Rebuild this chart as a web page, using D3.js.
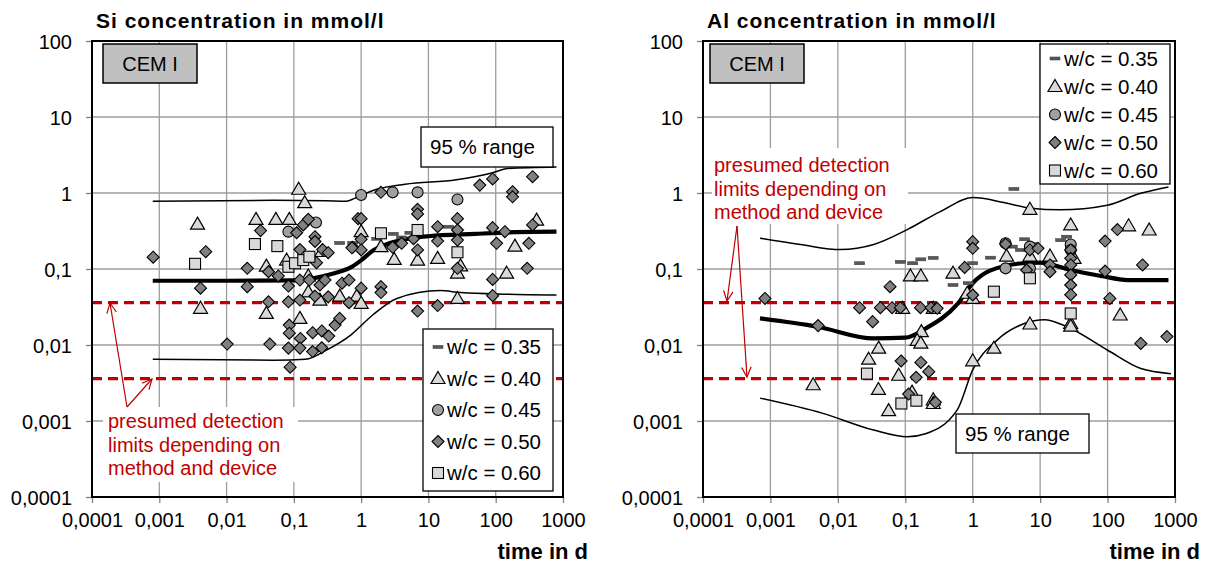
<!DOCTYPE html>
<html><head><meta charset="utf-8">
<script src="https://cdn.jsdelivr.net/npm/d3@7/dist/d3.min.js"></script>
<style>body{margin:0;background:#fff} text{font-family:Arial,"Liberation Sans",sans-serif}</style>
</head><body><svg id="c" width="1212" height="564"></svg>
<script>
// ---------- tick labels / categories ----------
const xTickValues = [1e-4, 1e-3, 1e-2, 1e-1, 1, 10, 100, 1000];
const xTickLabels = ["0,0001", "0,001", "0,01", "0,1", "1", "10", "100", "1000"];
const yTickValues = [1e-4, 1e-3, 1e-2, 1e-1, 1, 10, 100];
const yTickLabels = ["0,0001", "0,001", "0,01", "0,1", "1", "10", "100"];
const seriesNames = ["w/c = 0.35", "w/c = 0.40", "w/c = 0.45", "w/c = 0.50", "w/c = 0.60"];
const detectionLimits = [0.036, 0.0036];

// ---------- Si panel data: [time in d, concentration mmol/l] ----------
const si_wc035 = [[0.48,0.22],[0.75,0.22],[1.7,0.25],[3.0,0.29],[4.0,0.26],[5.3,0.30],[20,0.36]];
const si_wc040 = [[0.118,1.12],[0.145,0.745],[0.0037,0.39],[0.0274,0.45],[0.054,0.45],[0.0855,0.45],[0.039,0.109],[0.078,0.131],[0.0041,0.0304],[0.039,0.026],[0.123,0.0224],[0.164,0.081],[0.244,0.039],[0.48,0.044],[0.86,0.044],[1.0,0.31],[0.26,0.17],[0.164,0.05],[1.0,0.0354],[1.97,0.197],[3.1,0.134],[6.9,0.131],[13.7,0.138],[27,0.088],[27,0.041],[30,0.11],[145,0.088],[193,0.2],[405,0.44]];
const si_wc045 = [[0.083,0.31],[0.213,0.41],[1.0,0.94],[2.94,1.02],[6.9,1.02],[27,0.82]];
const si_wc050 = [[0.00081,0.143],[0.0049,0.169],[0.0041,0.056],[0.0102,0.0103],[0.0203,0.102],[0.0203,0.0586],[0.032,0.32],[0.042,0.092],[0.042,0.037],[0.044,0.0103],[0.0586,0.081],[0.083,0.0597],[0.083,0.037],[0.0855,0.0183],[0.0855,0.0143],[0.083,0.0091],[0.088,0.0051],[0.123,0.18],[0.123,0.0716],[0.123,0.039],[0.125,0.0122],[0.123,0.0091],[0.11,0.3],[0.138,0.38],[0.164,0.45],[0.206,0.266],[0.206,0.23],[0.268,0.18],[0.324,0.164],[0.217,0.121],[0.17,0.0716],[0.244,0.0616],[0.29,0.0716],[0.206,0.044],[0.324,0.043],[0.19,0.0145],[0.26,0.0153],[0.33,0.0131],[0.19,0.0082],[0.26,0.0092],[0.41,0.0183],[0.48,0.0224],[0.52,0.065],[0.66,0.0716],[0.66,0.036],[0.75,0.193],[0.9,0.46],[1.97,1.02],[1.0,0.46],[1.0,0.246],[1.0,0.178],[0.73,0.19],[1.0,0.056],[1.97,0.0586],[1.97,0.049],[2.94,0.193],[4.0,0.218],[6.0,0.25],[6.9,0.61],[6.9,0.53],[6.9,0.178],[6.9,0.028],[13.7,0.36],[13.7,0.233],[13.7,0.033],[27,0.46],[27,0.326],[27,0.24],[27,0.102],[58,1.27],[90,1.53],[178,1.04],[178,0.89],[353,1.64],[90,0.35],[137,0.31],[103,0.218],[311,0.218],[353,0.38],[294,0.102],[90,0.073],[90,0.0446]];
const si_wc060 = [[0.0034,0.117],[0.0264,0.213],[0.0568,0.2],[0.083,0.107],[0.104,0.119],[0.138,0.131],[0.17,0.145],[1.97,0.295],[6.9,0.326],[27,0.166]];
const si_median = [[0.0008,0.07],[0.01,0.07],[0.1,0.071],[0.2,0.076],[0.4,0.088],[0.7,0.105],[1.0,0.13],[1.5,0.175],[2.5,0.215],[5,0.25],[10,0.27],[50,0.29],[200,0.305],[800,0.31]];
const si_upper = [[0.0008,0.78],[0.05,0.8],[0.3,0.79],[0.6,0.78],[0.8,0.85],[1.0,0.93],[1.5,1.08],[4.5,1.3],[26,1.49],[90,1.85],[150,2.1],[800,2.2]];
const si_lower = [[0.0008,0.0065],[0.05,0.0063],[0.15,0.0065],[0.3,0.0085],[0.7,0.0135],[1.5,0.025],[3.4,0.041],[15,0.052],[30,0.049],[150,0.0466],[800,0.0455]];

// ---------- Al panel data ----------
const al_wc035 = [[0.021,0.119],[0.0845,0.124],[0.129,0.119],[0.17,0.134],[0.259,0.14],[0.51,0.0616],[0.86,0.065],[1.0,0.119],[4.08,1.13],[1.84,0.141],[3.86,0.197],[5.1,0.178],[5.9,0.246],[7.65,0.213],[20.2,0.239],[24.8,0.266]];
const al_wc040 = [[7.05,0.61],[28.4,0.38],[205,0.37],[414,0.326],[3.18,0.148],[7.05,0.148],[14,0.148],[31.8,0.138],[0.83,0.048],[1.0,0.041],[154,0.0248],[7.05,0.0189],[28.4,0.0193],[28.4,0.0177],[2.06,0.0091],[1.0,0.0062],[0.119,0.081],[0.17,0.081],[0.51,0.088],[0.0914,0.0304],[0.26,0.0304],[0.173,0.015],[0.15,0.0115],[0.17,0.0106],[0.0403,0.0091],[0.0286,0.0065],[0.0798,0.004],[0.0043,0.003],[0.04,0.0026],[0.126,0.0024],[0.0566,0.00137],[0.26,0.0019],[0.26,0.0017]];
const al_wc045 = [[3.07,0.218],[7.05,0.197],[28.4,0.21],[28.4,0.178],[3.07,0.102],[7.05,0.102]];
const al_wc050 = [[0.00083,0.041],[0.0051,0.018],[0.0594,0.0585],[0.021,0.031],[0.0328,0.0203],[0.0427,0.031],[0.0637,0.031],[0.0845,0.031],[0.168,0.031],[0.241,0.031],[0.297,0.0304],[0.0867,0.00616],[0.17,0.0059],[0.145,0.00376],[0.223,0.00446],[0.112,0.00226],[0.28,0.00176],[0.76,0.105],[1.0,0.229],[1.0,0.187],[1.0,0.0455],[3.07,0.213],[7.05,0.178],[9.3,0.187],[6.3,0.097],[14,0.113],[14,0.092],[28.4,0.178],[28.4,0.138],[28.4,0.113],[28.4,0.0835],[28.4,0.0616],[28.4,0.0459],[92,0.233],[140,0.33],[92,0.094],[108,0.041],[330,0.113],[311,0.0105],[759,0.0129]];
const al_wc060 = [[7.05,0.0755],[2.06,0.0503],[28.4,0.026],[0.027,0.0042],[0.0875,0.0017],[0.146,0.00185]];
const al_median = [[0.0007,0.0224],[0.005,0.0174],[0.034,0.0122],[0.1,0.0125],[0.2,0.0165],[0.6,0.035],[1.0,0.065],[1.8,0.095],[5.7,0.119],[10,0.121],[28,0.097],[80,0.081],[200,0.0716],[800,0.0716]];
const al_upper = [[0.0007,0.254],[0.0028,0.21],[0.011,0.18],[0.034,0.21],[0.107,0.33],[0.33,0.57],[1.0,0.87],[2.9,0.75],[7.2,0.63],[20,0.6],[99,0.69],[311,0.99],[800,1.2]];
const al_lower = [[0.0007,0.002],[0.006,0.00126],[0.034,0.00076],[0.107,0.00062],[0.2,0.00068],[0.59,0.0014],[1.0,0.0047],[2.3,0.0116],[5.7,0.019],[11.5,0.0215],[25,0.0174],[99,0.0086],[311,0.0049],[870,0.0042]];

// ---------- drawing ----------
const svg = d3.select("#c");
const RED = "#c00000";
const markerStyles = [
  {shape:"dash", fill:"#595959"},
  {shape:"tri", fill:"#d9d9d9"},
  {shape:"circ", fill:"#a0a0a0"},
  {shape:"dia", fill:"#808080"},
  {shape:"sq", fill:"#d9d9d9"}
];
function drawMarker(g, x, y, st) {
  if (st.shape === "dash") {
    g.append("rect").attr("x", x-5).attr("y", y-1.5).attr("width", 10).attr("height", 3)
      .attr("fill", st.fill).attr("stroke", "#333").attr("stroke-width", 0.5);
  } else if (st.shape === "tri") {
    g.append("path").attr("d", `M${x},${y-7}L${x+7},${y+5}L${x-7},${y+5}Z`)
      .attr("fill", st.fill).attr("stroke", "#000").attr("stroke-width", 1.2);
  } else if (st.shape === "circ") {
    g.append("circle").attr("cx", x).attr("cy", y).attr("r", 5.5)
      .attr("fill", st.fill).attr("stroke", "#000").attr("stroke-width", 1.1);
  } else if (st.shape === "dia") {
    g.append("path").attr("d", `M${x},${y-6}L${x+6},${y}L${x},${y+6}L${x-6},${y}Z`)
      .attr("fill", st.fill).attr("stroke", "#000").attr("stroke-width", 1.1);
  } else {
    g.append("rect").attr("x", x-5.5).attr("y", y-5.5).attr("width", 11).attr("height", 11)
      .attr("fill", st.fill).attr("stroke", "#000").attr("stroke-width", 1.1);
  }
}

const panels = [
  {title:"Si concentration in mmol/l", x0:92, x1:563, y0:41, y1:497,
   series:[si_wc035, si_wc040, si_wc045, si_wc050, si_wc060],
   median:si_median, upper:si_upper, lower:si_lower,
   cem:[103,44], range:{x:421,y:127,w:132,h:40},
   legend:{x:423,y:329,w:130,h:162,first:347,step:31.5},
   note:{rx:103,ry:407,rw:195,rh:75,tx:108,ty:428,origin:[127,407],targets:[[110,303],[152,379]]}},
  {title:"Al concentration in mmol/l", x0:703, x1:1175, y0:41, y1:497,
   series:[al_wc035, al_wc040, al_wc045, al_wc050, al_wc060],
   median:al_median, upper:al_upper, lower:al_lower,
   cem:[710,44], range:{x:956,y:414,w:133,h:39},
   legend:{x:1040,y:44,w:130,h:140,first:58.5,step:28},
   note:{rx:712,ry:148,rw:196,rh:76,tx:714,ty:172,origin:[737,226],targets:[[727,301],[747,377]]}}
];

panels.forEach(p => {
  const x = d3.scaleLog().domain([1e-4, 1e3]).range([p.x0, p.x1]);
  const y = d3.scaleLog().domain([1e-4, 1e2]).range([p.y1, p.y0]);
  const g = svg.append("g");

  // gridlines
  g.selectAll(".vg").data(xTickValues.slice(1, -1)).enter().append("line")
    .attr("x1", d => x(d)).attr("x2", d => x(d)).attr("y1", p.y0).attr("y2", p.y1)
    .attr("stroke", "#9d9d9d").attr("stroke-width", 1.3);
  g.selectAll(".hg").data(yTickValues.slice(1, -1)).enter().append("line")
    .attr("y1", d => y(d)).attr("y2", d => y(d)).attr("x1", p.x0).attr("x2", p.x1)
    .attr("stroke", "#9d9d9d").attr("stroke-width", 1.3);

  // annotation background (covers grid)
  g.append("rect").attr("x", p.note.rx).attr("y", p.note.ry).attr("width", p.note.rw).attr("height", p.note.rh).attr("fill", "#fff");

  // axes with ticks
  const xAxis = d3.axisBottom(x).tickValues(xTickValues).tickFormat((d, i) => xTickLabels[i]).tickSize(6).tickSizeOuter(0);
  const xa = g.append("g").attr("transform", `translate(0,${p.y1})`).call(xAxis);
  xa.select(".domain").remove();
  xa.selectAll("line").attr("stroke", "#808080").attr("stroke-width", 1.3);
  xa.selectAll("text").attr("font-size", 20).attr("fill", "#000").attr("dy", null).attr("y", 30)
    .style("font-family", 'Arial,"Liberation Sans",sans-serif');
  const yAxis = d3.axisLeft(y).tickValues(yTickValues).tickFormat((d, i) => yTickLabels[i]).tickSize(6).tickSizeOuter(0);
  const ya = g.append("g").attr("transform", `translate(${p.x0},0)`).call(yAxis);
  ya.select(".domain").remove();
  ya.selectAll("line").attr("stroke", "#808080").attr("stroke-width", 1.3);
  ya.selectAll("text").attr("font-size", 20).attr("fill", "#000").attr("x", -20).attr("dy", "0.35em")
    .style("font-family", 'Arial,"Liberation Sans",sans-serif');

  // detection limits
  g.selectAll(".dl").data(detectionLimits).enter().append("line")
    .attr("x1", p.x0).attr("x2", p.x1).attr("y1", d => y(d)).attr("y2", d => y(d))
    .attr("stroke", RED).attr("stroke-width", 3.2).attr("stroke-dasharray", "10,6");

  // curves
  const line = d3.line().x(d => x(d[0])).y(d => y(d[1])).curve(d3.curveMonotoneX);
  g.append("path").attr("d", line(p.upper)).attr("fill", "none").attr("stroke", "#000").attr("stroke-width", 1.5);
  g.append("path").attr("d", line(p.lower)).attr("fill", "none").attr("stroke", "#000").attr("stroke-width", 1.5);
  g.append("path").attr("d", line(p.median)).attr("fill", "none").attr("stroke", "#000").attr("stroke-width", 4.2);

  // markers
  p.series.forEach((s, i) => {
    const sg = g.append("g");
    s.forEach(d => drawMarker(sg, x(d[0]), y(d[1]), markerStyles[i]));
  });

  // plot border
  g.append("rect").attr("x", p.x0).attr("y", p.y0).attr("width", p.x1 - p.x0).attr("height", p.y1 - p.y0)
    .attr("fill", "none").attr("stroke", "#000").attr("stroke-width", 2);

  // title
  g.append("text").attr("x", p.x0 + 4).attr("y", 28).attr("font-size", 21).attr("letter-spacing", 1)
    .attr("font-weight", "bold").text(p.title);
  // x axis title
  g.append("text").attr("x", p.x1 + 25).attr("y", 559).attr("text-anchor", "end").attr("font-size", 22).attr("font-weight", "bold").text("time in d");

  // CEM I box
  g.append("rect").attr("x", p.cem[0]).attr("y", p.cem[1]).attr("width", 94).attr("height", 39)
    .attr("fill", "#c0c0c0").attr("stroke", "#000").attr("stroke-width", 1.5);
  g.append("text").attr("x", p.cem[0] + 47).attr("y", p.cem[1] + 27).attr("text-anchor", "middle").attr("font-size", 20).text("CEM I");

  // 95 % range box
  g.append("rect").attr("x", p.range.x).attr("y", p.range.y).attr("width", p.range.w).attr("height", p.range.h)
    .attr("fill", "#fff").attr("stroke", "#000").attr("stroke-width", 1.3);
  g.append("text").attr("x", p.range.x + 9).attr("y", p.range.y + 27).attr("font-size", 20.5).text("95 % range");

  // legend
  const L = p.legend;
  g.append("rect").attr("x", L.x).attr("y", L.y).attr("width", L.w).attr("height", L.h)
    .attr("fill", "#fff").attr("stroke", "#000").attr("stroke-width", 1.3);
  seriesNames.forEach((n, i) => {
    const cy = L.first + i * L.step;
    drawMarker(g, L.x + 15, cy, markerStyles[i]);
    g.append("text").attr("x", L.x + 24).attr("y", cy + 7).attr("font-size", 20.5).text(n);
  });

  // note text
  const lines = ["presumed detection", "limits depending on", "method and device"];
  lines.forEach((t, i) => g.append("text").attr("x", p.note.tx).attr("y", p.note.ty + i * 23.5)
    .attr("font-size", 20).attr("fill", RED).text(t));
  // arrows
  p.note.targets.forEach(tg => {
    const [ox, oy] = p.note.origin, [tx, ty] = tg;
    g.append("line").attr("x1", ox).attr("y1", oy).attr("x2", tx).attr("y2", ty).attr("stroke", RED).attr("stroke-width", 1.2);
    const ang = Math.atan2(ty - oy, tx - ox), len = 11, spread = 0.45;
    const a1 = [tx - len * Math.cos(ang - spread), ty - len * Math.sin(ang - spread)];
    const a2 = [tx - len * Math.cos(ang + spread), ty - len * Math.sin(ang + spread)];
    g.append("path").attr("d", `M${a1[0]},${a1[1]}L${tx},${ty}L${a2[0]},${a2[1]}`)
      .attr("fill", "none").attr("stroke", RED).attr("stroke-width", 1.2);
  });
});
</script></body></html>
